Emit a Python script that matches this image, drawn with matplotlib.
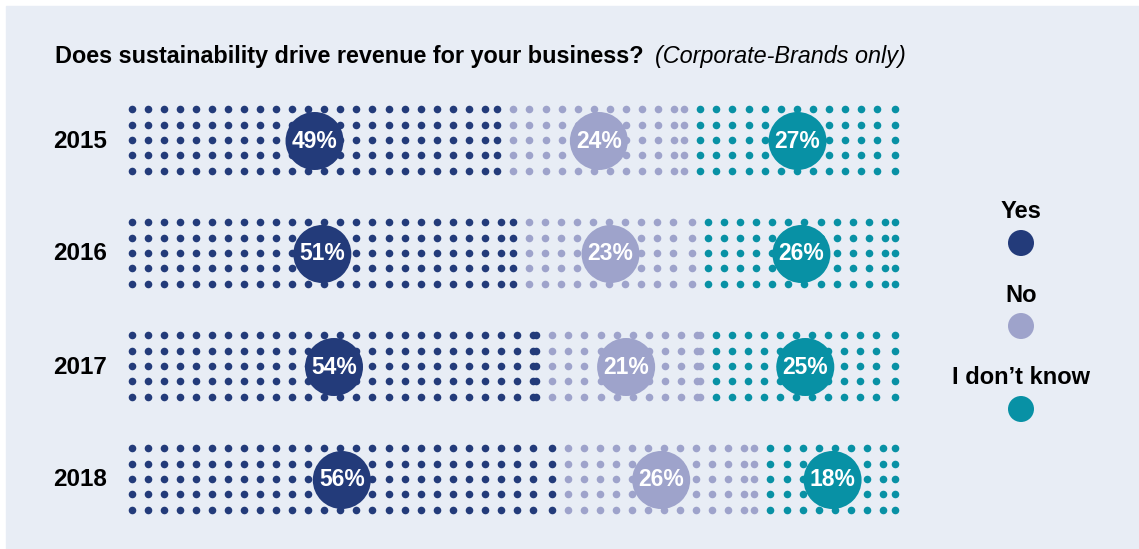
import numpy as np
import matplotlib
matplotlib.use("Agg")
import matplotlib.pyplot as plt

plt.rcParams['font.family'] = ['Liberation Sans', 'DejaVu Sans']

years = ["2015", "2016", "2017", "2018"]
yes = [49, 51, 54, 56]
no = [24, 23, 21, 26]
dont_know = [27, 26, 25, 18]
labels = ["Yes", "No", "I don\u2019t know"]
colors = ["#233b7a", "#9ea3cb", "#0891a5"]
bg = "#e8edf5"

W, H = 1139, 549
fig = plt.figure(figsize=(W / 100, H / 100), dpi=100)
fig.patch.set_facecolor("white")
ax = fig.add_axes([0, 0, 1, 1])
ax.set_xlim(0, W)
ax.set_ylim(H, 0)
ax.axis("off")
ax.add_patch(plt.Rectangle((6, 6), W, H, color=bg, zorder=0))

# layout in pixels
x_first = 131.7      # first dot centre
full = 779.0         # width of 100 %
step = 16.05         # dot pitch
row_pitch = 15.4
row_centres = [140, 253, 366, 479]
dot_s = (7.6 * 0.72) ** 2
bubble_r = 29

ax.text(55, 56, "Does sustainability drive revenue for your business?",
        fontsize=16.8, fontweight="bold", va="center", ha="left")
ax.text(655, 56, "(Corporate-Brands only)", fontsize=16.8, style="italic",
        va="center", ha="left")

for i, yr in enumerate(years):
    yc = row_centres[i]
    ax.text(53, yc + 1, yr, fontsize=17.5, fontweight="bold", va="center", ha="left")
    rows = yc + row_pitch * np.arange(-2, 3)
    left = x_first
    for val, col in zip([yes[i], no[i], dont_know[i]], colors):
        seg = val / 100 * full
        end = left + seg - step
        xs = list(np.arange(left, end - 3, step))
        xs.append(end)
        gx, gy = np.meshgrid(xs, rows)
        ax.scatter(gx.ravel(), gy.ravel(), s=dot_s, color=col, linewidths=0, zorder=2)
        cx = (left + end) / 2
        ax.add_patch(plt.Circle((cx, yc + 1), bubble_r, color=col, zorder=3, lw=0))
        ax.text(cx, yc + 1, f"{val}%", color="white", fontsize=16.5, fontweight="bold",
                ha="center", va="center", zorder=4)
        left += seg

# legend
for k, (lab, col) in enumerate(zip(labels, colors)):
    ty = 212 + k * 83
    ax.text(1021, ty, lab, fontsize=17, fontweight="bold", ha="center", va="center")
    ax.add_patch(plt.Circle((1021, ty + 31), 13, color=col, lw=0, zorder=3))

fig.savefig("out.png", dpi=100, facecolor=fig.get_facecolor())
